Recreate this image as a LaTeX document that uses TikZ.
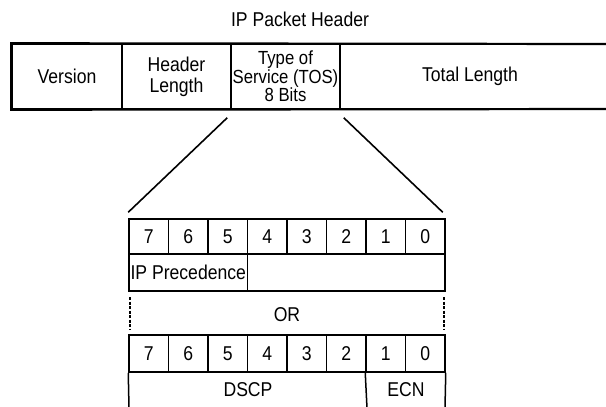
\documentclass[tikz,border=0pt]{standalone}
\usepackage{fontspec}
\setmainfont{Liberation Sans}[FakeStretch=0.88]
\usetikzlibrary{calc}
\begin{document}
\begin{tikzpicture}[x=1pt,y=-1pt,
  txt/.style={font=\fontsize{20}{20}\selectfont, inner sep=0pt, align=center},
  cell/.style={txt, draw, line width=1.5pt},
  outline/.style={line width=2.2pt},
  link/.style={line width=1.6pt},
  dashline/.style={line width=1.6pt, dash pattern=on 3pt off 1.5pt}]
\useasboundingbox[fill=white] (0,0) rectangle (606,407);

% title
\node[txt] (title) at (300,19) {IP Packet Header};

% top header row
\node[cell, minimum width=110pt, minimum height=65pt] (ver) at (67,76.5) {Version};
\node[cell, minimum width=109pt, minimum height=65pt, font=\fontsize{20}{21}\selectfont] (hl) at (176.5,76.5) {Header\\Length};
\node[cell, minimum width=109pt, minimum height=65pt, font=\fontsize{19}{17}\selectfont] (tos) at (285.5,76.5) {Type of\\Service (TOS)\\8 Bits};
\node[txt] (tot) at (470,76.5) {Total Length};
\coordinate (tr) at (607,44);
\coordinate (br) at (607,109);
\draw[outline] (tr) -- (ver.north west) -- (ver.south west) -- (br);

% bit grid 1
\foreach \b [count=\i from 0] in {7,6,5,4,3,2,1,0} {
  \node[cell, minimum width=39.5pt, minimum height=35pt] (a\b) at (148.75+39.5*\i,236.5) {\b};
}
\node[cell, minimum width=118.5pt, minimum height=37pt] (prec) at (188.25,272.5) {IP Precedence};
\node[cell, minimum width=197.5pt, minimum height=37pt] (rest) at (346.25,272.5) {};

% zoom lines
\draw[link] ($(tos.south west)+(-3,8)$) -- ($(a7.north west)+(0,-6)$);
\draw[link] ($(tos.south east)+(3,8)$) -- ($(a0.north east)+(-3,-6)$);

% OR
\node[txt] (or) at (287,315) {OR};
\coordinate (dl1) at (130,297);
\coordinate (dl2) at (130,330);
\coordinate (dr1) at (444,297);
\coordinate (dr2) at (444,330);
\draw[dashline] (dl1) -- (dl2);
\draw[dashline] (dr1) -- (dr2);

% bit grid 2
\foreach \b [count=\i from 0] in {7,6,5,4,3,2,1,0} {
  \node[cell, minimum width=39.5pt, minimum height=37pt] (c\b) at (148.75+39.5*\i,353.5) {\b};
}
\node[txt] (dscp) at (248,390) {DSCP};
\node[txt] (ecn) at (406,390) {ECN};
\coordinate (e1) at (129,408);
\coordinate (e2) at (367,408);
\coordinate (e3) at (445,408);
\draw[line width=1.5pt] (c7.south west) -- (e1);
\draw[line width=1.5pt] (c1.south west) -- (e2);
\draw[line width=1.5pt] (c0.south east) -- (e3);
\end{tikzpicture}
\end{document}
